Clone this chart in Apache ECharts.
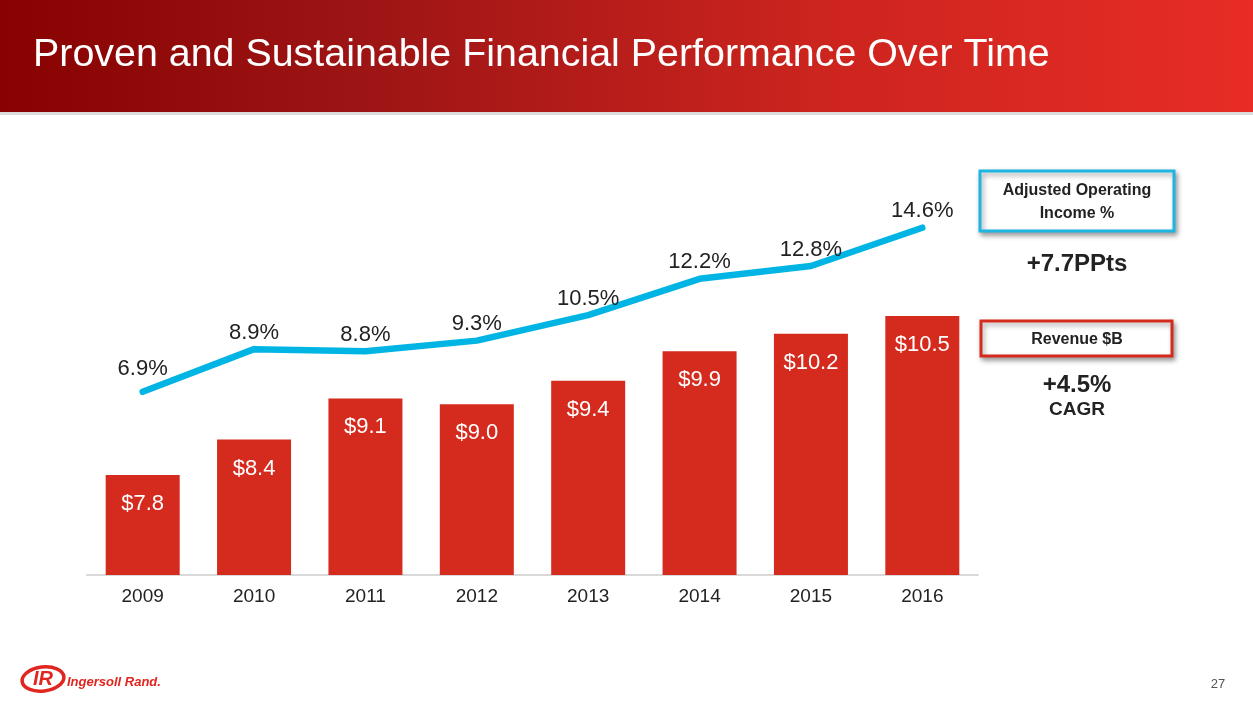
<!DOCTYPE html>
<html>
<head>
<meta charset="utf-8">
<script src="https://cdn.jsdelivr.net/npm/echarts@6/dist/echarts.min.js"></script>
<style>
html,body{margin:0;padding:0;background:#fff;}
#c{width:1253px;height:705px;}
</style>
</head>
<body>
<div id="c"></div>
<script>
var years = ['2009','2010','2011','2012','2013','2014','2015','2016'];
var revenue = [7.8, 8.4, 9.1, 9.0, 9.4, 9.9, 10.2, 10.5];
var opIncomePct = [6.9, 8.9, 8.8, 9.3, 10.5, 12.2, 12.8, 14.6];
var titleText = 'Proven and Sustainable Financial Performance Over Time';

var FONT = 'Arial, Helvetica, sans-serif';
var chart = echarts.init(document.getElementById('c'), null, {renderer: 'canvas'});

var lineData = opIncomePct.map(function (v, i) {
  return i === 0 ? {value: v, label: {distance: 11}} : v;
});

var option = {
  animation: false,
  backgroundColor: '#ffffff',
  grid: {left: 87, right: 275, top: 200, bottom: 130},
  xAxis: {
    type: 'category',
    data: years,
    axisLine: {show: true, onZero: false, lineStyle: {color: '#d9d9d9', width: 2}},
    axisTick: {show: false},
    axisLabel: {color: '#222222', fontSize: 19, fontFamily: FONT, margin: 12}
  },
  yAxis: [
    {type: 'value', min: 6.1, max: 12.47, show: false, splitLine: {show: false}},
    {type: 'value', min: -1.7, max: 15.9, show: false, splitLine: {show: false}}
  ],
  series: [
    {
      type: 'bar',
      data: revenue,
      yAxisIndex: 0,
      barWidth: 74,
      itemStyle: {color: '#D52B1E'},
      label: {
        show: true, position: 'insideTop', distance: 18,
        color: '#ffffff', fontSize: 22, fontFamily: FONT,
        formatter: function (p) { return '$' + p.value.toFixed(1); }
      },
      z: 2
    },
    {
      type: 'line',
      data: lineData,
      yAxisIndex: 1,
      symbol: 'circle',
      symbolSize: 1,
      showSymbol: true,
      itemStyle: {color: '#00B4E4'},
      lineStyle: {color: '#00B4E4', width: 6.5, cap: 'round', join: 'round'},
      label: {
        show: true, position: 'top', distance: 5,
        color: '#222222', fontSize: 22, fontFamily: FONT,
        formatter: function (p) { return p.value.toFixed(1) + '%'; }
      },
      z: 3
    }
  ],
  graphic: [
    {
      type: 'rect', z: -10, silent: true,
      shape: {x: 0, y: 0, width: 1253, height: 112},
      style: {
        fill: new echarts.graphic.LinearGradient(0, 0, 1, 0, [
          {offset: 0, color: '#880202'},
          {offset: 0.3, color: '#9E1515'},
          {offset: 0.65, color: '#CC241E'},
          {offset: 1, color: '#E82C26'}
        ])
      }
    },
    {
      type: 'rect', z: -10, silent: true,
      shape: {x: 0, y: 112, width: 1253, height: 3},
      style: {fill: '#dcdcdc'}
    },
    {
      type: 'text', silent: true, x: 33, y: 55, scaleX: 1.01,
      style: {text: titleText, align: 'left', verticalAlign: 'middle',
        fill: '#ffffff', font: '39px ' + FONT}
    },
    // Adjusted Operating Income box
    {
      type: 'rect', silent: true,
      shape: {x: 980, y: 171, width: 194, height: 60},
      style: {fill: '#ffffff', stroke: '#1DB6E2', lineWidth: 3,
        shadowBlur: 5, shadowColor: 'rgba(0,0,0,0.35)', shadowOffsetX: 2, shadowOffsetY: 3}
    },
    {
      type: 'text', silent: true, x: 1077, y: 202,
      style: {text: 'Adjusted Operating\nIncome %', align: 'center', verticalAlign: 'middle',
        fill: '#222222', font: 'bold 16px ' + FONT, lineHeight: 23}
    },
    {
      type: 'text', silent: true, x: 1077, y: 264,
      style: {text: '+7.7PPts', align: 'center', verticalAlign: 'middle',
        fill: '#222222', font: 'bold 24px ' + FONT}
    },
    // Revenue box
    {
      type: 'rect', silent: true,
      shape: {x: 981, y: 321, width: 191, height: 35},
      style: {fill: '#ffffff', stroke: '#D52B1E', lineWidth: 3,
        shadowBlur: 5, shadowColor: 'rgba(0,0,0,0.35)', shadowOffsetX: 2, shadowOffsetY: 3}
    },
    {
      type: 'text', silent: true, x: 1077, y: 340,
      style: {text: 'Revenue $B', align: 'center', verticalAlign: 'middle',
        fill: '#222222', font: 'bold 16px ' + FONT}
    },
    {
      type: 'text', silent: true, x: 1077, y: 385,
      style: {text: '+4.5%', align: 'center', verticalAlign: 'middle',
        fill: '#222222', font: 'bold 24px ' + FONT}
    },
    {
      type: 'text', silent: true, x: 1077, y: 410,
      style: {text: 'CAGR', align: 'center', verticalAlign: 'middle',
        fill: '#222222', font: 'bold 19px ' + FONT}
    },
    // Logo
    {
      type: 'ellipse', silent: true, rotation: 0.12, originX: 43, originY: 679,
      shape: {cx: 43, cy: 679, rx: 21, ry: 12},
      style: {fill: 'none', stroke: '#E0261F', lineWidth: 3.5}
    },
    {
      type: 'text', silent: true, x: 43, y: 679,
      style: {text: 'IR', align: 'center', verticalAlign: 'middle',
        fill: '#E0261F', stroke: '#ffffff', lineWidth: 2, font: 'italic bold 20px ' + FONT}
    },
    {
      type: 'text', silent: true, x: 67, y: 682,
      style: {text: 'Ingersoll Rand.', align: 'left', verticalAlign: 'middle',
        fill: '#E0261F', font: 'italic bold 13px ' + FONT}
    },
    {
      type: 'text', silent: true, x: 1218, y: 684,
      style: {text: '27', align: 'center', verticalAlign: 'middle',
        fill: '#555555', font: '13px ' + FONT}
    }
  ]
};
chart.setOption(option);
</script>
</body>
</html>
